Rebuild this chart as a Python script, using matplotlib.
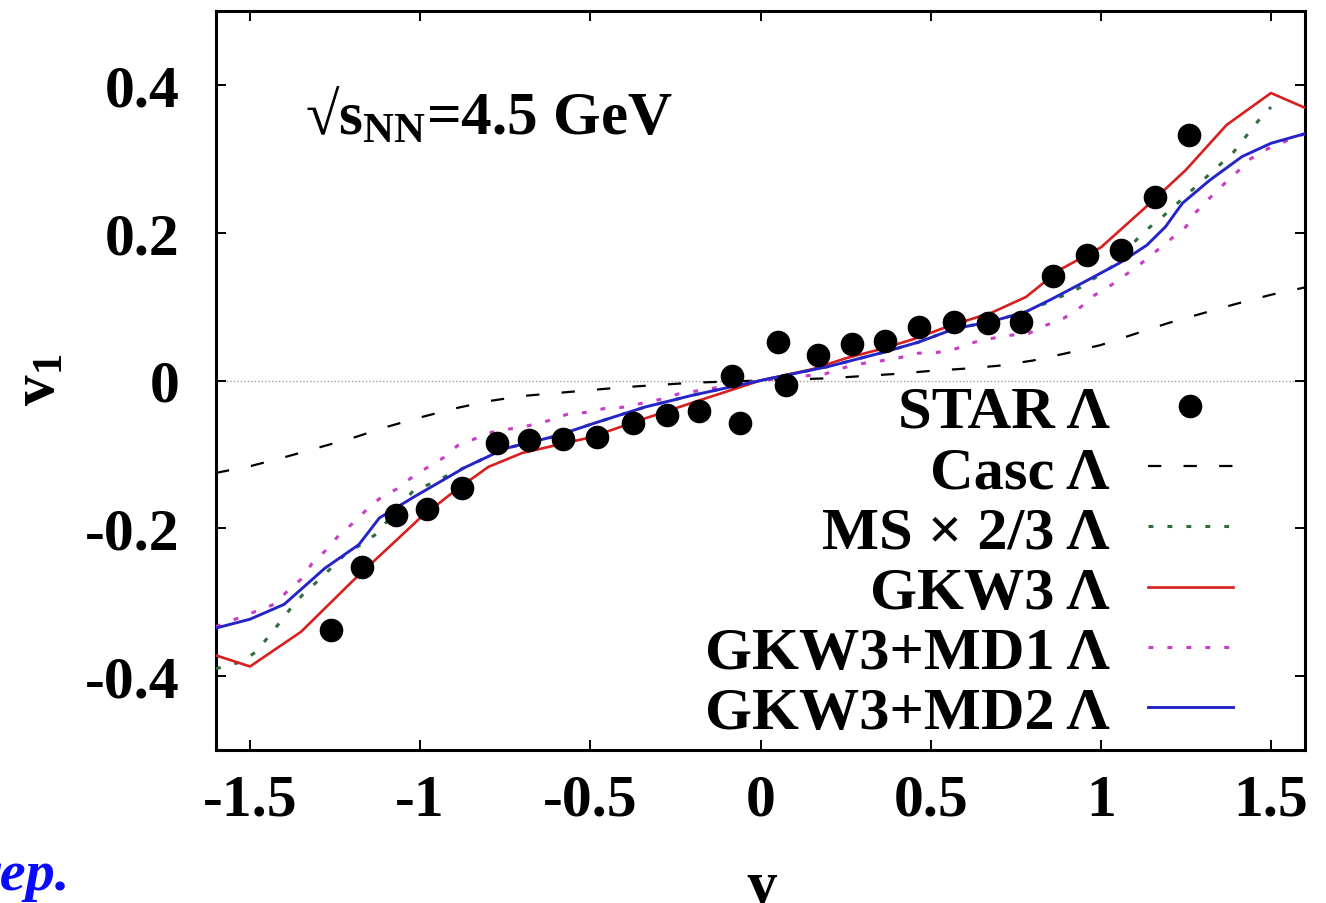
import matplotlib
matplotlib.use("Agg")
import matplotlib.pyplot as plt
from matplotlib.lines import Line2D

plt.rcParams['font.family'] = ['Liberation Serif', 'DejaVu Serif']
plt.rcParams['font.weight'] = 'bold'
plt.rcParams['axes.unicode_minus'] = False
plt.rcParams['mathtext.fontset'] = 'custom'
plt.rcParams['mathtext.rm'] = 'Liberation Serif'
plt.rcParams['mathtext.bf'] = 'Liberation Serif:bold'
plt.rcParams['mathtext.it'] = 'Liberation Serif:italic'

# ---------------- data ----------------
star_y_pos = [-1.262, -1.172, -1.07, -0.98, -0.877, -0.773, -0.679, -0.579, -0.479, -0.376,
              -0.276, -0.182, -0.085, -0.059, 0.05, 0.074, 0.17, 0.268, 0.365, 0.465,
              0.57, 0.668, 0.765, 0.86, 0.96, 1.06, 1.16, 1.258]
star_v1 = [-0.338, -0.252, -0.182, -0.174, -0.145, -0.084, -0.081, -0.079, -0.076, -0.057,
           -0.047, -0.041, 0.006, -0.058, 0.052, -0.006, 0.034, 0.050, 0.054, 0.072,
           0.079, 0.078, 0.079, 0.142, 0.170, 0.176, 0.248, 0.332]

casc_y = [-1.6, -1.5, -1.4, -1.3, -1.2, -1.1, -1.0, -0.9, -0.8, -0.7, -0.6, -0.5, -0.4,
          -0.2, 0.0, 0.2, 0.4, 0.5, 0.6, 0.7, 0.8, 0.9, 1.0, 1.1, 1.2, 1.3, 1.4, 1.5, 1.6]
casc_v1 = [-0.125, -0.116, -0.104, -0.091, -0.078, -0.063, -0.050, -0.038, -0.028, -0.021,
           -0.017, -0.013, -0.009, -0.003, 0.0, 0.003, 0.009, 0.013, 0.016, 0.020, 0.027,
           0.037, 0.048, 0.063, 0.078, 0.091, 0.104, 0.116, 0.126]

ms_y = [-1.6, -1.52, -1.48, -1.45, -1.41, -1.38, -1.34, -1.30, -1.22, -1.17, -1.13, -1.02,
        -0.96, -0.91, -0.87, -0.75, -0.6, -0.49, -0.34, -0.2, 0.0, 0.2, 0.36, 0.465, 0.57,
        0.68, 0.78, 0.89, 0.94, 0.98, 1.03, 1.11, 1.14, 1.18, 1.35, 1.39, 1.46, 1.5]
ms_v1 = [-0.390, -0.380, -0.366, -0.349, -0.326, -0.308, -0.287, -0.271, -0.235, -0.221,
         -0.208, -0.149, -0.138, -0.126, -0.118, -0.092, -0.075, -0.058, -0.036, -0.020,
         0.0, 0.019, 0.038, 0.052, 0.070, 0.080, 0.093, 0.115, 0.126, 0.138, 0.153, 0.193,
         0.206, 0.221, 0.292, 0.309, 0.350, 0.370]

gkw3_y = [-1.6, -1.5, -1.35, -1.2, -1.0, -0.9, -0.8, -0.7, -0.5, -0.35, -0.2, 0.0, 0.15,
          0.25, 0.35, 0.45, 0.55, 0.68, 0.78, 0.88, 1.0, 1.15, 1.25, 1.37, 1.5, 1.6]
gkw3_v1 = [-0.372, -0.387, -0.340, -0.272, -0.186, -0.150, -0.117, -0.098, -0.077, -0.053,
           -0.030, 0.0, 0.015, 0.030, 0.042, 0.056, 0.073, 0.092, 0.113, 0.150, 0.180,
           0.242, 0.285, 0.346, 0.389, 0.369]

md1_y = [-1.6, -1.43, -1.39, -1.35, -1.32, -1.28, -1.24, -1.20, -1.16, -1.12, -1.07, -1.03,
         -0.98, -0.93, -0.89, -0.84, -0.79, -0.73, -0.68, -0.62, -0.57, -0.51, -0.46, -0.40,
         -0.35, -0.29, -0.24, 0.0, 0.19, 0.25, 0.30, 0.36, 0.41, 0.465, 0.52, 0.575, 0.63,
         0.68, 0.73, 0.79, 0.84, 0.89, 0.94, 0.98, 1.03, 1.07, 1.12, 1.16, 1.21, 1.25, 1.28,
         1.32, 1.36, 1.40, 1.44, 1.5, 1.6]
md1_v1 = [-0.333, -0.303, -0.285, -0.269, -0.249, -0.231, -0.210, -0.194, -0.176, -0.160,
          -0.147, -0.133, -0.118, -0.104, -0.088, -0.079, -0.070, -0.065, -0.061, -0.054,
          -0.046, -0.043, -0.038, -0.036, -0.031, -0.025, -0.018, 0.0, 0.009, 0.018, 0.023,
          0.027, 0.031, 0.037, 0.038, 0.043, 0.052, 0.057, 0.061, 0.064, 0.075, 0.084,
          0.099, 0.115, 0.129, 0.142, 0.159, 0.174, 0.193, 0.208, 0.228, 0.247, 0.265,
          0.282, 0.300, 0.316, 0.334]

md2_y = [-1.6, -1.5, -1.4, -1.28, -1.18, -1.12, -1.02, -0.87, -0.75, -0.6, -0.49, -0.34,
         -0.2, 0.0, 0.2, 0.36, 0.465, 0.57, 0.68, 0.78, 0.855, 0.95, 1.055, 1.135, 1.19,
         1.24, 1.32, 1.415, 1.5, 1.6]
md2_v1 = [-0.335, -0.323, -0.303, -0.254, -0.222, -0.186, -0.158, -0.118, -0.092, -0.075,
          -0.058, -0.036, -0.020, 0.0, 0.019, 0.038, 0.052, 0.070, 0.080, 0.093, 0.110,
          0.133, 0.159, 0.183, 0.208, 0.240, 0.271, 0.303, 0.321, 0.334]

xticks = [-1.5, -1.0, -0.5, 0.0, 0.5, 1.0, 1.5]
xtick_labels = ['-1.5', '-1', '-0.5', '0', '0.5', '1', '1.5']
yticks = [-0.4, -0.2, 0.0, 0.2, 0.4]
ytick_labels = ['-0.4', '-0.2', '0', '0.2', '0.4']

legend_labels = ['STAR Λ', 'Casc Λ', 'MS × 2/3 Λ', 'GKW3 Λ', 'GKW3+MD1 Λ', 'GKW3+MD2 Λ']

# ---------------- styles ----------------
c_green = '#2e6e3c'
c_red = '#d81e1e'
c_mag = '#c83cc8'
c_blue = '#2424c8'

W, H = 1326, 904
fig = plt.figure(figsize=(W / 100, H / 100), dpi=100)
L, R, T, B = 216, 1305, 12, 751
ax = fig.add_axes([L / W, (H - B) / H, (R - L) / W, (B - T) / H])

ax.axhline(0, color='#a0a0a0', lw=1.0, ls=(0, (1, 1.5)), zorder=1)

styles = [
    dict(color='black', lw=1.6, ls=(0, (6.0, 10))),
    dict(color=c_green, lw=2.2, ls=(0, (1.6, 4.6))),
    dict(color=c_red, lw=1.9, ls='-'),
    dict(color=c_mag, lw=2.2, ls=(0, (1.6, 4.6))),
    dict(color=c_blue, lw=2.1, ls='-'),
]
ax.plot(casc_y, casc_v1, zorder=2, **styles[0])
ax.plot(ms_y, ms_v1, zorder=3, **styles[1])
ax.plot(gkw3_y, gkw3_v1, zorder=3, **styles[2])
ax.plot(md1_y, md1_v1, zorder=3, **styles[3])
ax.plot(md2_y, md2_v1, zorder=4, **styles[4])
ax.plot(star_y_pos, star_v1, 'o', color='black', ms=16, zorder=5)

ax.set_xlim(-1.6, 1.6)
ax.set_ylim(-0.5, 0.5)
ax.set_xticks(xticks)
ax.set_xticklabels(xtick_labels)
ax.set_yticks(yticks)
ax.set_yticklabels(ytick_labels)
ax.tick_params(direction='in', length=7, width=1.4, top=True, right=True,
               labelsize=43)
ax.tick_params(axis='y', pad=26)
ax.tick_params(axis='x', pad=17)
for s in ax.spines.values():
    s.set_linewidth(2.2)
    s.set_color('black')

# legend (gnuplot style: right-aligned text, sample to the right)
def ax_x(px):
    return (px - L) / (R - L)

def ax_y(py):
    return (B - py) / (B - T)

row0 = 407
step = 60.2
for i, lab in enumerate(legend_labels):
    ry = row0 + i * step
    ax.text(ax_x(1110), ax_y(ry + 21), lab, transform=ax.transAxes, ha='right',
            va='baseline', fontsize=43.5, fontweight='bold', zorder=6)
    if i == 0:
        ax.add_line(Line2D([ax_x(1190)], [ax_y(ry)], marker='o', color='black', ms=16,
                           transform=ax.transAxes, zorder=6))
    else:
        ax.add_line(Line2D([ax_x(1148), ax_x(1233)], [ax_y(ry), ax_y(ry)],
                           transform=ax.transAxes, zorder=6, **styles[i - 1]))

ax.text(ax_x(305), ax_y(135), r'$\mathrm{√s_{NN}}$=4.5 GeV', transform=ax.transAxes,
        ha='left', va='baseline', fontsize=44, fontweight='bold')

fig.text(40 / W, (H - 380) / H, r'$\mathbf{v_1}$', rotation=90, ha='center', va='center',
         fontsize=44)
fig.text(762 / W, (H - 860) / H, 'y', ha='center', va='top', fontsize=44, fontweight='bold')
fig.text(70 / W, (H - 890) / H, 'rep.', ha='right', va='baseline', fontsize=42,
         fontweight='bold', fontstyle='italic', color='#0a0aff')

fig.savefig('out.png', dpi=100)
